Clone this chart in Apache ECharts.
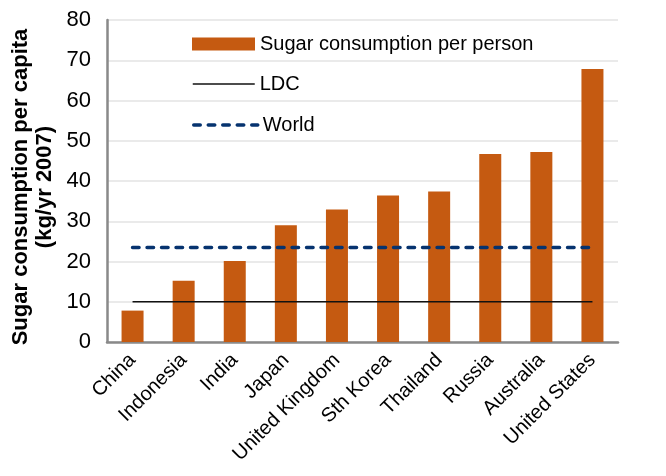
<!DOCTYPE html>
<html>
<head>
<meta charset="utf-8">
<script src="https://cdn.jsdelivr.net/npm/echarts@6/dist/echarts.min.js"></script>
<style>
html,body{margin:0;padding:0;background:#fff;}
#c{width:666px;height:476px;}
</style>
</head>
<body>
<div id="c"></div>
<script>
var categories = ["China","Indonesia","India","Japan","United Kingdom","Sth Korea","Thailand","Russia","Australia","United States"];
var sugarValues = [7.8, 15.2, 20.1, 29.0, 32.9, 36.4, 37.4, 46.7, 47.2, 67.8];
var ldcValues = [10, 10, 10, 10, 10, 10, 10, 10, 10, 10];
var worldValues = [23.5, 23.5, 23.5, 23.5, 23.5, 23.5, 23.5, 23.5, 23.5, 23.5];
var yTicks = { min: 0, max: 80, interval: 10 };

var FONT = '"Liberation Sans", Arial, sans-serif';
var chart = echarts.init(document.getElementById('c'), null, { renderer: 'canvas' });

function legendFor(name, top, icon, w, h, lineStyle) {
  var l = {
    data: [{ name: name }],
    left: 192, top: top,
    orient: 'vertical',
    itemWidth: w, itemHeight: h,
    itemGap: 0, itemTextGap: 9,
    padding: 0,
    selectedMode: false,
    textStyle: { fontFamily: FONT, fontSize: 20, color: '#000', lineHeight: 24 }
  };
  if (icon) l.icon = icon;
  if (lineStyle) { l.itemStyle = { opacity: 0 }; l.lineStyle = lineStyle; }
  return l;
}

var ldcStyle = { color: '#111', width: 1.5 };
var worldStyle = { color: '#06336F', width: 3.5, type: [6.5, 8], cap: 'round' };

var option = {
  animation: false,
  backgroundColor: '#fff',
  textStyle: { fontFamily: FONT },
  grid: { left: 107, right: 48, top: 20, bottom: 134, containLabel: false, outerBoundsMode: 'none' },
  legend: [
    legendFor('Sugar consumption per person', 32, 'rect', 63, 13, null),
    legendFor('LDC', 72, null, 62, 13, ldcStyle),
    legendFor('World', 113, null, 64, 13, worldStyle)
  ],
  xAxis: {
    type: 'category',
    data: categories,
    axisTick: { show: false },
    axisLine: { show: true, lineStyle: { color: '#898989', width: 2.5 } },
    axisLabel: { rotate: 45, interval: 0, margin: 15, fontSize: 20, color: '#000', fontFamily: FONT },
    splitLine: { show: false }
  },
  yAxis: {
    type: 'value',
    min: yTicks.min, max: yTicks.max, interval: yTicks.interval,
    name: 'Sugar consumption per capita\n(kg/yr 2007)',
    nameLocation: 'middle',
    nameRotate: 90,
    nameGap: 50,
    nameMoveOverlap: false,
    nameTextStyle: { fontFamily: FONT, fontSize: 22, fontWeight: 'bold', color: '#000', lineHeight: 24, padding: [0, 12, 0, 0] },
    axisLine: { show: true, lineStyle: { color: '#898989', width: 2.5 } },
    axisTick: { show: false },
    axisLabel: { fontSize: 22, color: '#000', margin: 16, fontFamily: FONT },
    splitLine: { show: true, lineStyle: { color: '#e3e3e3', width: 1.5 } }
  },
  series: [
    {
      name: 'Sugar consumption per person',
      type: 'bar',
      data: sugarValues,
      barWidth: 22,
      itemStyle: { color: '#C55A11' },
      z: 2
    },
    {
      name: 'LDC',
      type: 'line',
      data: ldcValues,
      symbol: 'none',
      lineStyle: ldcStyle,
      itemStyle: { color: '#111' },
      z: 3
    },
    {
      name: 'World',
      type: 'line',
      data: worldValues,
      symbol: 'none',
      lineStyle: worldStyle,
      itemStyle: { color: '#06336F' },
      z: 4
    }
  ]
};
chart.setOption(option);
</script>
</body>
</html>
